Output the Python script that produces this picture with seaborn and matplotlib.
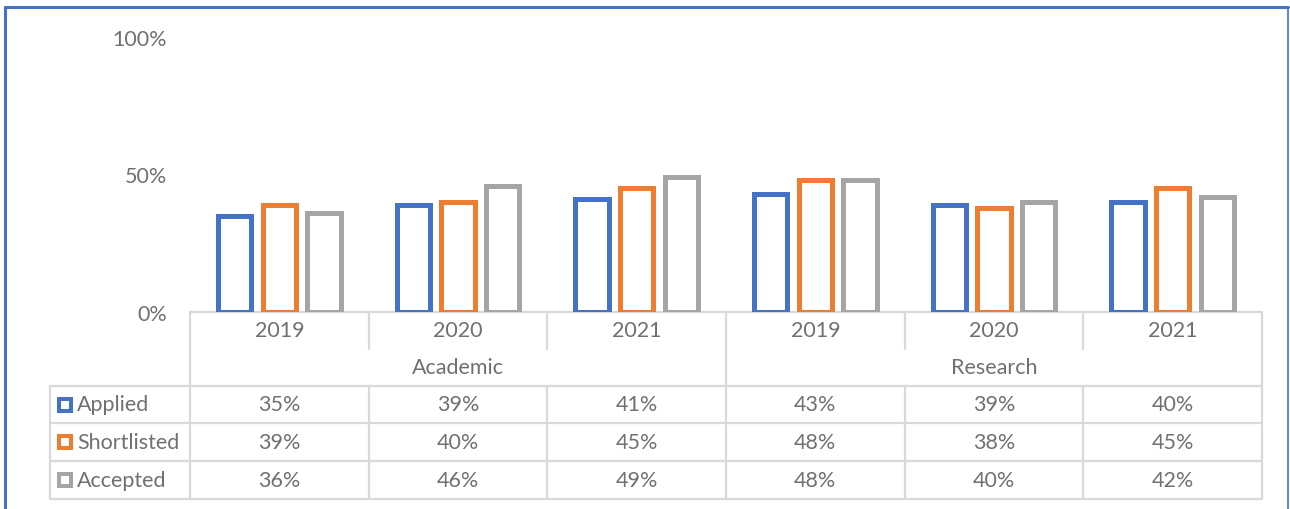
import matplotlib
matplotlib.use("Agg")
import matplotlib.pyplot as plt
import seaborn as sns
import pandas as pd
from matplotlib.lines import Line2D
from matplotlib.ticker import PercentFormatter

# ---- data ----
groups = ["Academic", "Research"]
years = ["2019", "2020", "2021"]
series = ["Applied", "Shortlisted", "Accepted"]
applied = [0.35, 0.39, 0.41, 0.43, 0.39, 0.40]
shortlisted = [0.39, 0.40, 0.45, 0.48, 0.38, 0.45]
accepted = [0.36, 0.46, 0.49, 0.48, 0.40, 0.42]
colors = ["#4472C4", "#ED7D31", "#A5A5A5"]
yticks = [0, 0.5, 1.0]

values = {"Applied": applied, "Shortlisted": shortlisted, "Accepted": accepted}
keys = [f"{g} {y}" for g in groups for y in years]
rows = []
for s in series:
    for k, v in zip(keys, values[s]):
        rows.append({"key": k, "series": s, "value": v})
df = pd.DataFrame(rows)

sns.set_theme(style="white")
plt.rcParams["font.family"] = ["Lato", "DejaVu Sans"]
TXT = "#707070"
GRID = "#D9D9D9"
FS = 15.5

W, H = 1290, 510
fig = plt.figure(figsize=(W / 100, H / 100), dpi=100)
fig.patch.set_facecolor("white")

# layout in pixels
L, R = 190, 1262
Y0, Y100 = 313, 38
ax = fig.add_axes([L / W, (H - Y0) / H, (R - L) / W, (Y0 - Y100) / H])

sns.barplot(data=df, x="key", y="value", hue="series", order=keys,
            hue_order=series, palette=colors, fill=False, linewidth=3.6,
            width=0.75, gap=0.26, errorbar=None, legend=False, ax=ax)
ax.set_ylim(0, 1)
ax.set_xlim(-0.5, len(keys) - 0.5)
ax.set_yticks(yticks)
ax.yaxis.set_major_formatter(PercentFormatter(1.0, decimals=0))
ax.tick_params(axis="y", length=0, pad=16.5, labelsize=FS, labelcolor=TXT)
ax.set_xticks([])
ax.set_xlabel("")
ax.set_ylabel("")
for sp in ax.spines.values():
    sp.set_visible(False)
ax.patch.set_alpha(0)

# ---- overlay for table & border (pixel coords) ----
ov = fig.add_axes([0, 0, 1, 1], zorder=-1)
ov.set_xlim(0, W)
ov.set_ylim(H, 0)
ov.axis("off")
ov.patch.set_alpha(0)

def hline(y, x0, x1, **kw):
    ov.add_line(Line2D([x0, x1], [y, y], color=GRID, lw=1.6, **kw))

def vline(x, y0, y1, **kw):
    ov.add_line(Line2D([x, x], [y0, y1], color=GRID, lw=1.6, **kw))

ncol = len(keys)
cw = (R - L) / ncol
row_year = (313, 350)
row_cat = (350, 387)
LEG_L = 50
data_rows = [(387, 424), (424, 462), (462, 500)]

hline(Y0, L, R)
for (a, b) in data_rows:
    hline(a, LEG_L, R)
hline(data_rows[-1][1], LEG_L, R)
vline(L, Y0, 500)
vline(R, Y0, 500)
vline(LEG_L, 387, 500)
ng = len(years)
for i in range(1, ncol):
    x = L + i * cw
    if i % ng == 0:
        vline(x, Y0, 500)
    else:
        vline(x, row_year[0], row_year[1])
        vline(x, 387, 500)

# year labels
for i in range(ncol):
    cx = L + (i + 0.5) * cw
    ov.text(cx, sum(row_year) / 2, years[i % ng], ha="center", va="center",
            fontsize=FS, color=TXT)
# group labels
for gi, g in enumerate(groups):
    cx = L + (gi * ng + ng / 2) * cw
    ov.text(cx, sum(row_cat) / 2, g, ha="center", va="center",
            fontsize=FS, color=TXT)
# value rows
for ri, s in enumerate(series):
    cy = sum(data_rows[ri]) / 2
    ov.plot([65], [cy], marker="s", ms=8.6, mew=2.9, mec=colors[ri],
            mfc="white", ls="none")
    ov.text(77, cy, s, ha="left", va="center", fontsize=FS, color=TXT)
    for i, v in enumerate(values[s]):
        cx = L + (i + 0.5) * cw
        ov.text(cx, cy, f"{v:.0%}", ha="center", va="center",
                fontsize=FS, color=TXT)

# blue chart border
BLUE = "#4472C4"
ov.add_line(Line2D([5, 5], [8, H + 5], color=BLUE, lw=2.2))
ov.add_line(Line2D([5, 1288], [8, 8], color=BLUE, lw=2.2))
ov.add_line(Line2D([1288, 1288], [8, H + 5], color=BLUE, lw=1.2))

fig.savefig("out.png", dpi=100, facecolor="white")
